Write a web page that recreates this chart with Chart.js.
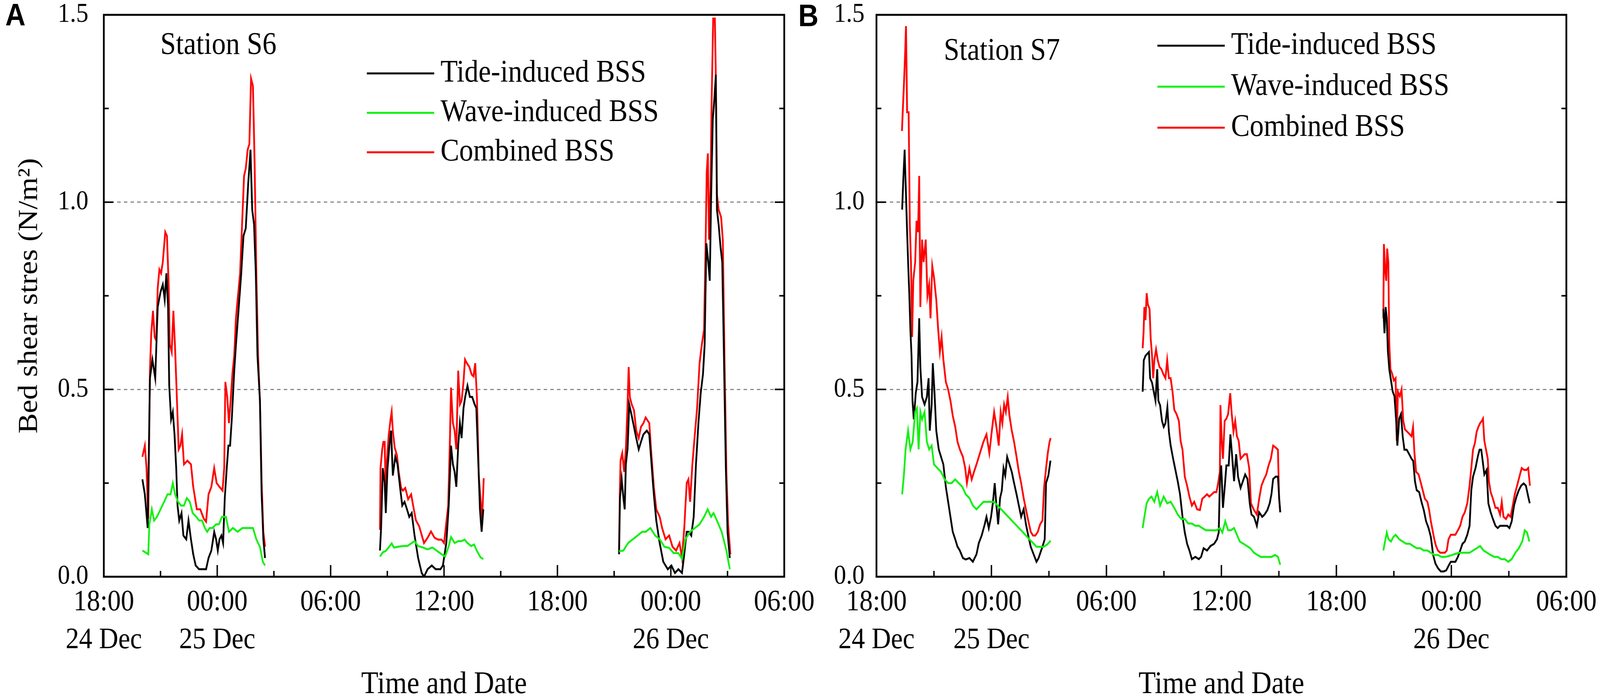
<!DOCTYPE html>
<html lang="en">
<head>
  <meta charset="UTF-8">
  <title>Bed shear stress, stations S6 and S7</title>
  <script src="https://cdn.jsdelivr.net/npm/chart.js"></script>
  <style>
    html, body { margin: 0; padding: 0; background: #fff; overflow: hidden; }
    #page { position: absolute; left: 0; top: 0; width: 4562px; height: 1785px; transform-origin: 0 0; }
    .panel { position: absolute; top: 0; }
    .tag { position: absolute; font: bold 80px 'Liberation Sans', Arial, sans-serif; line-height: 80px; color: #000; }
  </style>
</head>
<body>
  <div id="page">
    <div class="panel" style="left:0px;"><canvas id="chartS6" width="2340" height="1785"></canvas></div>
    <div class="panel" style="left:2340px;"><canvas id="chartS7" width="2222" height="1785"></canvas></div>
    <div class="tag" style="left:15px; top:-2px;">A</div>
    <div class="tag" style="left:2276px; top:0px;">B</div>
  </div>

  <script>
    // stretch the 4562 x 1785 figure over the whole viewport we are given
    (function () {
      const kx = window.innerWidth / 4562;
      const ky = window.innerHeight / 1785;
      if (kx > 0 && ky > 0 && (Math.abs(kx - 1) > 0.001 || Math.abs(ky - 1) > 0.001)) {
        document.getElementById('page').style.transform = 'scale(' + kx + ',' + ky + ')';
      }
    })();

    // hours counted from 18:00 on 24 Dec, null = no record
    const tickHours = [0, 6, 12, 18, 24, 30, 36];
    const tickTimes = ['18:00', '00:00', '06:00', '12:00', '18:00', '00:00', '06:00'];
    const tickDates = ['24 Dec', '25 Dec', '', '', '', '26 Dec', ''];
    const yTicks = [0, 0.5, 1.0, 1.5];
    const seriesNames = ['Tide-induced BSS', 'Wave-induced BSS', 'Combined BSS'];

    // Station S6
    const s6TideHours = [2.04,2.17,2.32,2.44,2.57,2.72,2.85,3.00,3.12,3.22,3.31,3.40,3.46,3.56,3.65,3.74,3.83,3.90,3.99,4.11,4.21,4.36,4.48,4.61,4.73,4.86,5.04,5.23,5.41,5.54,5.69,5.84,5.94,6.03,6.12,6.22,6.31,6.40,6.49,6.59,6.68,6.77,6.90,7.02,7.14,7.27,7.39,7.51,7.64,7.76,7.85,7.95,8.04,8.13,8.26,8.35,8.44,8.53,
      11.5,
      14.61,14.67,14.76,14.86,14.92,15.01,15.11,15.20,15.29,15.42,15.54,15.67,15.79,15.91,16.04,16.16,16.29,16.44,16.63,16.82,16.94,17.13,17.35,17.56,17.81,17.94,18.03,18.12,18.25,18.37,18.47,18.56,18.65,18.75,18.84,18.93,19.03,19.12,19.24,19.37,19.49,19.62,19.71,19.81,19.90,19.99,20.08,
      23.5,
      27.26,27.31,27.40,27.49,27.56,27.62,27.71,27.80,27.93,28.05,28.17,28.30,28.42,28.55,28.73,28.86,28.98,29.10,29.23,29.41,29.60,29.84,30.03,30.22,30.40,30.59,30.71,30.84,30.96,31.08,31.21,31.33,31.46,31.58,31.70,31.79,31.88,31.98,32.06,32.13,32.22,32.31,32.38,32.44,32.53,32.63,32.72,32.81,32.91,33.00,33.12];
    const s6TideValues = [0.26,0.22,0.13,0.53,0.58,0.53,0.72,0.76,0.78,0.74,0.81,0.72,0.51,0.42,0.44,0.38,0.29,0.19,0.15,0.17,0.11,0.10,0.15,0.10,0.06,0.03,0.02,0.02,0.02,0.05,0.07,0.12,0.10,0.07,0.10,0.11,0.09,0.21,0.28,0.35,0.35,0.42,0.55,0.64,0.72,0.81,0.91,0.93,1.05,1.14,0.98,0.94,0.81,0.59,0.47,0.22,0.10,0.05,
      null,
      0.07,0.13,0.29,0.25,0.17,0.29,0.35,0.39,0.27,0.32,0.30,0.24,0.19,0.20,0.18,0.16,0.17,0.11,0.05,0.01,0.00,0.02,0.03,0.02,0.02,0.03,0.06,0.09,0.19,0.35,0.30,0.28,0.24,0.35,0.41,0.37,0.45,0.48,0.51,0.48,0.48,0.46,0.45,0.31,0.18,0.12,0.18,
      null,
      0.06,0.21,0.26,0.21,0.18,0.30,0.34,0.46,0.43,0.40,0.37,0.34,0.36,0.38,0.39,0.38,0.30,0.22,0.15,0.09,0.04,0.02,0.03,0.01,0.02,0.01,0.06,0.12,0.12,0.11,0.16,0.30,0.41,0.49,0.54,0.62,0.89,0.84,0.79,1.01,1.22,1.28,1.34,0.98,0.94,0.88,0.84,0.59,0.29,0.12,0.05];

    const s6WaveHours = [2.04,2.20,2.35,2.41,2.54,2.66,2.81,3.00,3.19,3.37,3.53,3.65,3.77,3.93,4.08,4.24,4.39,4.55,4.70,4.89,5.04,5.20,5.35,5.47,5.60,5.75,5.94,6.09,6.25,6.46,6.62,6.83,7.08,7.33,7.51,7.70,7.89,8.07,8.26,8.41,8.53,
      11.5,
      14.61,14.76,14.92,15.07,15.23,15.35,15.57,15.82,16.07,16.26,16.44,16.63,16.88,17.13,17.38,17.63,17.87,18.06,18.25,18.37,18.56,18.75,18.93,19.09,19.24,19.43,19.59,19.74,19.93,20.08,
      23.5,
      27.26,27.49,27.74,27.99,28.24,28.48,28.67,28.92,29.17,29.41,29.66,29.91,30.15,30.40,30.59,30.77,31.02,31.27,31.52,31.76,31.95,32.13,32.26,32.44,32.69,32.94,33.12];
    const s6WaveValues = [0.07,0.065,0.06,0.14,0.18,0.15,0.16,0.18,0.20,0.22,0.22,0.25,0.22,0.20,0.19,0.19,0.21,0.20,0.17,0.16,0.15,0.15,0.13,0.12,0.13,0.13,0.14,0.14,0.16,0.16,0.12,0.13,0.12,0.13,0.13,0.13,0.13,0.10,0.08,0.04,0.03,
      null,
      0.054,0.065,0.069,0.078,0.089,0.078,0.08,0.082,0.082,0.089,0.095,0.082,0.078,0.073,0.078,0.069,0.06,0.054,0.082,0.106,0.09,0.095,0.095,0.099,0.09,0.082,0.086,0.069,0.052,0.047,
      null,
      0.068,0.07,0.09,0.10,0.11,0.12,0.12,0.13,0.11,0.10,0.08,0.077,0.063,0.063,0.048,0.10,0.12,0.13,0.14,0.16,0.18,0.16,0.17,0.15,0.12,0.07,0.02];

    const s6CombHours = [2.04,2.17,2.26,2.35,2.44,2.51,2.60,2.69,2.78,2.85,2.94,3.03,3.12,3.25,3.34,3.43,3.49,3.59,3.68,3.77,3.87,3.96,4.05,4.14,4.24,4.42,4.61,4.73,4.92,5.10,5.29,5.41,5.54,5.69,5.84,5.97,6.12,6.28,6.37,6.43,6.53,6.62,6.71,6.80,6.90,6.99,7.08,7.21,7.33,7.42,7.51,7.61,7.70,7.79,7.89,7.98,8.07,8.16,8.26,8.35,8.44,8.53,
      11.5,
      14.61,14.64,14.73,14.79,14.86,14.92,14.98,15.07,15.17,15.23,15.29,15.39,15.51,15.60,15.73,15.82,15.95,16.10,16.26,16.38,16.51,16.69,16.94,17.13,17.31,17.50,17.69,17.87,18.00,18.09,18.22,18.31,18.37,18.47,18.56,18.65,18.75,18.84,18.93,19.03,19.11,19.21,19.34,19.46,19.56,19.65,19.74,19.84,19.93,20.02,20.10,
      23.5,
      27.26,27.30,27.34,27.43,27.53,27.62,27.71,27.77,27.83,27.93,28.05,28.17,28.30,28.42,28.55,28.67,28.86,28.98,29.10,29.23,29.41,29.54,29.72,29.91,30.09,30.28,30.46,30.59,30.71,30.84,30.93,31.02,31.14,31.27,31.39,31.52,31.64,31.76,31.84,31.90,31.96,32.02,32.10,32.16,32.24,32.33,32.39,32.44,32.53,32.66,32.75,32.84,32.94,33.03,33.15];
    const s6CombValues = [0.32,0.35,0.29,0.155,0.55,0.65,0.71,0.64,0.63,0.77,0.82,0.81,0.84,0.92,0.91,0.78,0.62,0.60,0.71,0.61,0.47,0.34,0.35,0.38,0.30,0.31,0.30,0.24,0.18,0.18,0.155,0.147,0.22,0.24,0.29,0.25,0.24,0.23,0.29,0.52,0.48,0.41,0.47,0.54,0.59,0.69,0.74,0.81,0.96,1.07,1.09,1.14,1.155,1.33,1.31,1.10,0.81,0.59,0.47,0.25,0.12,0.08,
      null,
      0.125,0.29,0.34,0.36,0.36,0.22,0.31,0.376,0.42,0.44,0.39,0.345,0.324,0.28,0.237,0.23,0.237,0.207,0.22,0.186,0.151,0.134,0.09,0.104,0.121,0.104,0.099,0.099,0.09,0.13,0.19,0.36,0.505,0.41,0.39,0.34,0.55,0.46,0.47,0.52,0.58,0.57,0.56,0.54,0.535,0.57,0.48,0.27,0.207,0.155,0.263,
      null,
      0.073,0.22,0.31,0.33,0.28,0.34,0.46,0.56,0.48,0.46,0.445,0.39,0.37,0.40,0.41,0.425,0.41,0.32,0.24,0.18,0.16,0.13,0.10,0.11,0.08,0.07,0.09,0.05,0.13,0.25,0.26,0.20,0.30,0.38,0.45,0.57,0.62,0.66,0.89,1.08,1.13,0.90,1.04,1.27,1.49,1.49,1.31,1.02,0.98,0.96,0.90,0.58,0.28,0.14,0.06];

    // Station S7
    const s7TideHours = [1.34,1.40,1.47,1.54,1.60,1.65,1.71,1.77,1.83,1.88,1.95,2.05,2.14,2.23,2.29,2.38,2.51,2.63,2.72,2.78,2.88,2.94,3.03,3.12,3.25,3.37,3.49,3.62,3.74,3.86,3.98,4.11,4.23,4.35,4.51,4.66,4.85,5.03,5.22,5.34,5.49,5.65,5.74,5.86,5.98,6.08,6.17,6.26,6.35,6.45,6.54,6.63,6.72,6.82,6.94,7.06,7.18,7.31,7.43,7.55,7.68,7.80,7.92,8.05,8.20,8.35,8.46,8.66,8.78,8.85,8.97,9.08,
      11.5,
      13.89,13.95,14.04,14.13,14.22,14.28,14.38,14.47,14.56,14.65,14.71,14.80,14.90,14.99,15.08,15.18,15.26,15.35,15.48,15.60,15.72,15.84,15.97,16.09,16.21,16.33,16.46,16.64,16.82,16.94,17.07,17.25,17.43,17.62,17.77,17.86,17.92,17.99,18.08,18.17,18.26,18.38,18.47,18.57,18.66,18.77,18.87,19.00,19.12,19.24,19.36,19.48,19.57,19.70,19.85,19.97,20.13,20.25,20.40,20.52,20.61,20.70,20.83,20.95,21.01,21.07,
      24,
      26.45,26.51,26.57,26.63,26.69,26.76,26.85,26.94,27.03,27.12,27.18,27.28,27.37,27.46,27.55,27.67,27.80,27.92,28.01,28.10,28.19,28.32,28.44,28.56,28.68,28.81,28.93,29.05,29.17,29.30,29.45,29.60,29.73,29.85,29.97,30.09,30.21,30.34,30.46,30.58,30.70,30.83,30.95,31.04,31.13,31.26,31.38,31.47,31.56,31.62,31.72,31.84,31.93,32.05,32.17,32.30,32.42,32.54,32.66,32.79,32.91,33.03,33.15,33.27,33.40,33.52,33.64,33.77,33.89,34.01,34.09];
    const s7TideValues = [0.98,1.06,1.14,1.02,0.92,0.84,0.76,0.66,0.59,0.47,0.42,0.49,0.52,0.69,0.56,0.48,0.46,0.48,0.53,0.39,0.46,0.57,0.49,0.39,0.34,0.32,0.30,0.24,0.20,0.16,0.12,0.10,0.08,0.07,0.05,0.046,0.05,0.04,0.06,0.09,0.11,0.14,0.16,0.13,0.16,0.20,0.25,0.19,0.14,0.21,0.23,0.29,0.27,0.32,0.30,0.28,0.25,0.22,0.19,0.16,0.18,0.14,0.11,0.08,0.06,0.04,0.05,0.08,0.10,0.25,0.27,0.31,
      null,
      0.494,0.578,0.59,0.595,0.60,0.53,0.518,0.494,0.47,0.554,0.47,0.458,0.416,0.40,0.41,0.452,0.387,0.351,0.315,0.285,0.255,0.22,0.16,0.118,0.088,0.07,0.047,0.053,0.047,0.053,0.076,0.07,0.082,0.088,0.10,0.118,0.255,0.297,0.184,0.237,0.297,0.297,0.38,0.315,0.255,0.327,0.267,0.237,0.255,0.273,0.261,0.196,0.166,0.16,0.136,0.172,0.16,0.166,0.178,0.196,0.22,0.261,0.267,0.267,0.214,0.172,
      null,
      0.715,0.65,0.72,0.69,0.60,0.554,0.524,0.494,0.482,0.416,0.35,0.422,0.434,0.375,0.339,0.339,0.327,0.315,0.309,0.255,0.231,0.226,0.20,0.178,0.148,0.13,0.106,0.058,0.035,0.023,0.014,0.014,0.017,0.029,0.04,0.04,0.04,0.053,0.07,0.088,0.094,0.112,0.136,0.231,0.267,0.29,0.321,0.339,0.339,0.315,0.273,0.285,0.196,0.172,0.154,0.136,0.13,0.136,0.136,0.136,0.136,0.13,0.148,0.19,0.214,0.231,0.243,0.249,0.243,0.214,0.196];

    const s7WaveHours = [1.34,1.43,1.52,1.65,1.77,1.89,2.02,2.11,2.20,2.29,2.38,2.51,2.63,2.75,2.88,3.00,3.18,3.37,3.55,3.74,3.92,4.11,4.29,4.48,4.66,4.85,5.03,5.22,5.40,5.58,5.77,5.95,6.14,6.32,6.51,6.69,6.88,7.06,7.25,7.43,7.62,7.80,7.98,8.17,8.35,8.54,8.72,8.91,9.09,
      11.5,
      13.89,13.98,14.10,14.22,14.35,14.50,14.65,14.80,14.99,15.17,15.35,15.54,15.72,15.91,16.09,16.27,16.46,16.64,16.82,17.00,17.19,17.37,17.56,17.74,17.92,18.05,18.20,18.35,18.50,18.66,18.81,18.96,19.15,19.33,19.51,19.70,19.88,20.06,20.25,20.43,20.61,20.80,20.95,21.07,
      24,
      26.45,26.54,26.63,26.72,26.85,26.97,27.09,27.28,27.46,27.64,27.83,28.01,28.19,28.38,28.56,28.75,28.93,29.11,29.30,29.48,29.66,29.85,30.03,30.21,30.40,30.58,30.77,30.95,31.13,31.32,31.50,31.68,31.87,32.05,32.24,32.42,32.60,32.79,32.97,33.15,33.34,33.52,33.70,33.83,33.95,34.07];
    const s7WaveValues = [0.22,0.27,0.34,0.39,0.34,0.36,0.44,0.45,0.34,0.44,0.42,0.44,0.36,0.34,0.35,0.30,0.29,0.28,0.26,0.25,0.25,0.26,0.25,0.24,0.22,0.21,0.19,0.18,0.19,0.20,0.20,0.20,0.20,0.19,0.18,0.17,0.16,0.15,0.14,0.13,0.12,0.11,0.10,0.09,0.08,0.08,0.08,0.086,0.096,
      null,
      0.13,0.16,0.196,0.208,0.214,0.20,0.226,0.19,0.214,0.196,0.20,0.184,0.166,0.154,0.154,0.142,0.142,0.136,0.136,0.13,0.124,0.124,0.124,0.124,0.13,0.118,0.148,0.124,0.124,0.13,0.112,0.094,0.088,0.082,0.076,0.064,0.058,0.053,0.053,0.053,0.053,0.058,0.053,0.032,
      null,
      0.07,0.094,0.118,0.10,0.094,0.106,0.112,0.10,0.094,0.088,0.088,0.082,0.076,0.076,0.07,0.07,0.064,0.058,0.058,0.053,0.053,0.055,0.058,0.061,0.064,0.064,0.064,0.064,0.07,0.076,0.082,0.07,0.064,0.058,0.053,0.053,0.047,0.047,0.04,0.047,0.064,0.076,0.094,0.124,0.118,0.094];

    const s7CombHours = [1.33,1.37,1.43,1.49,1.54,1.60,1.68,1.74,1.80,1.86,1.92,2.02,2.09,2.17,2.23,2.29,2.38,2.46,2.57,2.66,2.75,2.82,2.91,3.00,3.12,3.22,3.31,3.40,3.49,3.62,3.74,3.86,3.98,4.11,4.23,4.35,4.51,4.63,4.72,4.85,4.97,5.09,5.22,5.34,5.46,5.58,5.74,5.89,6.02,6.14,6.26,6.38,6.48,6.57,6.66,6.75,6.85,6.94,7.06,7.18,7.31,7.43,7.55,7.68,7.80,7.92,8.05,8.17,8.29,8.42,8.54,8.66,8.75,8.85,8.94,9.03,9.09,
      11.5,
      13.89,13.94,13.98,14.04,14.10,14.16,14.25,14.31,14.38,14.44,14.50,14.59,14.68,14.77,14.87,14.96,15.08,15.17,15.26,15.35,15.45,15.54,15.66,15.78,15.87,15.97,16.09,16.21,16.33,16.46,16.58,16.73,16.88,17.00,17.13,17.25,17.37,17.50,17.62,17.74,17.83,17.92,17.95,18.02,18.08,18.17,18.26,18.35,18.46,18.54,18.63,18.72,18.81,18.90,19.00,19.09,19.21,19.33,19.45,19.54,19.70,19.85,19.97,20.09,20.22,20.34,20.46,20.58,20.70,20.83,20.95,21.01,21.07,
      24,
      26.45,26.48,26.54,26.60,26.65,26.71,26.76,26.82,26.91,27.00,27.09,27.15,27.21,27.31,27.40,27.49,27.58,27.70,27.83,27.92,28.00,28.07,28.16,28.29,28.41,28.53,28.62,28.75,28.84,28.93,29.02,29.11,29.20,29.30,29.42,29.54,29.66,29.76,29.85,29.97,30.09,30.21,30.34,30.46,30.58,30.70,30.83,30.95,31.04,31.13,31.23,31.32,31.41,31.50,31.59,31.65,31.72,31.81,31.90,31.96,32.05,32.17,32.30,32.42,32.54,32.63,32.72,32.85,32.97,33.09,33.18,33.31,33.43,33.55,33.67,33.80,33.92,34.01,34.10];
    const s7CombValues = [1.19,1.24,1.31,1.39,1.47,1.24,1.24,0.94,0.84,0.64,0.79,0.84,0.95,0.92,1.07,0.72,0.90,0.84,0.90,0.75,0.78,0.69,0.83,0.80,0.74,0.66,0.60,0.64,0.58,0.52,0.50,0.47,0.43,0.40,0.36,0.34,0.32,0.29,0.25,0.29,0.26,0.28,0.30,0.32,0.34,0.36,0.38,0.33,0.39,0.44,0.40,0.35,0.44,0.41,0.46,0.44,0.48,0.43,0.39,0.36,0.32,0.28,0.25,0.21,0.18,0.15,0.12,0.11,0.11,0.12,0.14,0.15,0.24,0.29,0.33,0.36,0.37,
      null,
      0.61,0.655,0.72,0.685,0.757,0.727,0.715,0.637,0.59,0.53,0.578,0.607,0.578,0.56,0.554,0.542,0.53,0.578,0.53,0.53,0.494,0.446,0.434,0.416,0.363,0.339,0.267,0.243,0.214,0.19,0.20,0.18,0.178,0.208,0.214,0.22,0.214,0.22,0.226,0.226,0.25,0.28,0.458,0.363,0.315,0.416,0.422,0.434,0.49,0.434,0.387,0.416,0.375,0.363,0.315,0.32,0.327,0.327,0.29,0.196,0.178,0.166,0.208,0.243,0.26,0.273,0.297,0.315,0.35,0.345,0.339,0.208,0.172,
      null,
      0.69,0.888,0.822,0.79,0.876,0.84,0.625,0.554,0.542,0.524,0.53,0.363,0.494,0.482,0.50,0.416,0.393,0.387,0.38,0.375,0.40,0.333,0.28,0.273,0.25,0.226,0.208,0.20,0.178,0.148,0.124,0.10,0.082,0.07,0.064,0.064,0.064,0.07,0.10,0.112,0.112,0.112,0.124,0.136,0.16,0.172,0.196,0.243,0.29,0.339,0.357,0.387,0.40,0.41,0.416,0.422,0.363,0.339,0.315,0.255,0.226,0.208,0.184,0.184,0.166,0.20,0.16,0.154,0.166,0.16,0.184,0.22,0.243,0.267,0.29,0.285,0.285,0.29,0.243];

    const SERIF = "'Liberation Serif', 'Times New Roman', serif";
    Chart.defaults.font.family = SERIF;
    Chart.defaults.color = '#000';

    const toPoints = (hours, values) => hours.map((h, i) => ({ x: h, y: values[i] }));

    // box, inward ticks, station name and legend, the way Origin draws them
    const framePlugin = {
      id: 'frame',
      afterDraw(chart, args, opts) {
        const { ctx, chartArea: a, scales: { x, y } } = chart;
        ctx.save();
        ctx.strokeStyle = '#000';
        ctx.lineWidth = 4;
        ctx.beginPath();
        for (let h = 0; h <= 36; h += 3) {
          const px = x.getPixelForValue(h);
          const len = h % 6 === 0 ? 30 : 15;
          ctx.moveTo(px, a.bottom);
          ctx.lineTo(px, a.bottom - len);
        }
        for (let k = 1; k < 6; k++) {
          const py = y.getPixelForValue(k * 0.25);
          const len = k % 2 === 0 ? 27 : 14;
          ctx.moveTo(a.left, py); ctx.lineTo(a.left + len, py);
          ctx.moveTo(a.right, py); ctx.lineTo(a.right - len, py);
        }
        ctx.stroke();
        ctx.lineWidth = 5;
        ctx.strokeRect(a.left, a.top, a.right - a.left, a.bottom - a.top);

        ctx.fillStyle = '#000';
        ctx.font = '80px ' + SERIF;
        ctx.textAlign = 'left';
        ctx.textBaseline = 'alphabetic';
        ctx.fillText(opts.station, opts.stationX, opts.stationY);

        ctx.textBaseline = 'middle';
        chart.data.datasets.forEach((ds, i) => {
          const ly = opts.legendY + i * opts.legendGap;
          ctx.strokeStyle = ds.borderColor;
          ctx.lineWidth = 5;
          ctx.beginPath();
          ctx.moveTo(opts.legendX, ly);
          ctx.lineTo(opts.legendX + 192, ly);
          ctx.stroke();
          ctx.fillText(ds.label, opts.legendX + 210, ly);
        });
        ctx.restore();
      }
    };

    function makeChart(id, series, cfg) {
      const colors = ['#000000', '#10f010', '#ff0000'];
      const drawOrder = [1, 0, 2];
      new Chart(document.getElementById(id), {
        type: 'line',
        data: {
          datasets: series.map((s, i) => ({
            label: seriesNames[i],
            data: toPoints(s[0], s[1]),
            borderColor: colors[i],
            borderWidth: 5,
            pointRadius: 0,
            tension: 0,
            spanGaps: false,
            fill: false,
            order: drawOrder[i]
          }))
        },
        options: {
          responsive: false,
          animation: false,
          layout: { padding: { top: 38, right: cfg.rightPad, bottom: 0, left: 0 } },
          plugins: {
            legend: { display: false },
            tooltip: { enabled: false },
            frame: cfg.frame
          },
          scales: {
            x: {
              type: 'linear',
              min: 0,
              max: 36,
              afterBuildTicks: s => { s.ticks = tickHours.map(v => ({ value: v })); },
              afterFit: s => { s.height = 308; s.paddingLeft = 0; s.paddingRight = 0; },
              grid: { display: false, drawTicks: false },
              border: { display: false },
              ticks: {
                autoSkip: false,
                maxRotation: 0,
                minRotation: 0,
                padding: 17,
                font: { size: 76, lineHeight: 1.28 },
                callback: v => {
                  const i = tickHours.indexOf(v);
                  return tickDates[i] ? [tickTimes[i], tickDates[i]] : tickTimes[i];
                }
              },
              title: {
                display: true,
                text: 'Time and Date',
                font: { size: 80, lineHeight: 1 },
                padding: { top: 0, bottom: -9 }
              }
            },
            y: {
              min: 0,
              max: 1.5,
              afterBuildTicks: s => { s.ticks = yTicks.map(v => ({ value: v })); },
              afterFit: s => { s.width = cfg.yWidth; s.paddingTop = 0; s.paddingBottom = 0; },
              grid: {
                drawTicks: false,
                lineWidth: 3,
                color: c => (c.tick && (c.tick.value === 0.5 || c.tick.value === 1)) ? '#8a8a8a' : 'rgba(0,0,0,0)'
              },
              border: { display: false, dash: [10, 9] },
              ticks: {
                padding: cfg.yPad,
                font: { size: 70 },
                callback: v => v.toFixed(1)
              },
              title: {
                display: cfg.yTitle,
                text: 'Bed shear stres (N/m²)',
                font: { size: 78, lineHeight: 1 },
                padding: { top: 46, bottom: 0 }
              }
            }
          }
        },
        plugins: [framePlugin]
      });
    }

    makeChart('chartS6',
      [[s6TideHours, s6TideValues], [s6WaveHours, s6WaveValues], [s6CombHours, s6CombValues]],
      { rightPad: 104, yWidth: 296, yPad: 44, yTitle: true,
        frame: { station: 'Station S6', stationX: 457, stationY: 138, legendX: 1046, legendY: 188, legendGap: 101 } });

    makeChart('chartS7',
      [[s7TideHours, s7TideValues], [s7WaveHours, s7WaveValues], [s7CombHours, s7CombValues]],
      { rightPad: 96, yWidth: 159, yPad: 34, yTitle: false,
        frame: { station: 'Station S7', stationX: 351, stationY: 153, legendX: 960, legendY: 117, legendGap: 105 } });
  </script>
</body>
</html>
